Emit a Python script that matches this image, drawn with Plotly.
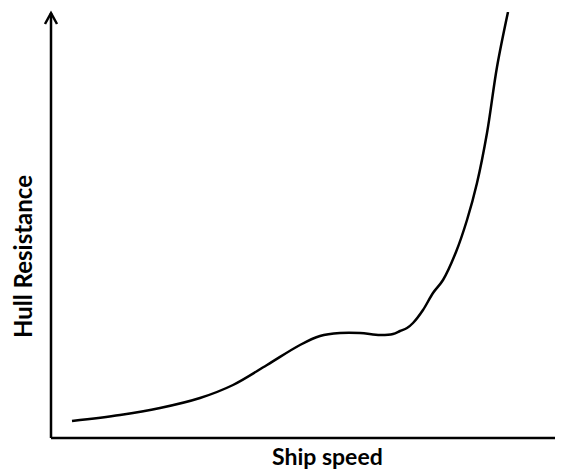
import plotly.graph_objects as go

# Data (arbitrary units: speed vs. hull resistance)
ship_speed = [21, 69, 109, 149, 182, 216, 249, 269, 289, 309, 329, 342, 349, 356,
              362, 372, 382, 392, 405, 416, 426, 436, 446, 457]
hull_resistance = [17, 23, 30, 40, 53, 73, 93, 102, 105, 105, 103, 104, 107, 110,
                   115, 128, 145, 158, 186, 218, 255, 305, 371, 426]

x_label = "Ship speed"
y_label = "Hull Resistance"

# page has an 8px body margin, so the figure is 8px smaller and everything is shifted
OFF = 8
W, H = 563 - OFF, 470 - OFF
ML, MT = 51 - OFF, 12 - OFF
PW, PH = 511, 426
MR = W - ML - PW
MB = H - MT - PH

fig = go.Figure()
fig.add_trace(go.Scatter(
    x=ship_speed, y=hull_resistance, mode="lines",
    line=dict(color="black", width=2.5, shape="spline", smoothing=1.0),
    hoverinfo="skip", showlegend=False,
))

def px(x):
    return (x - 51) / PW

def py(y):
    return (438 - y) / PH

ax_style = dict(color="black", width=2.5)
shapes = [
    dict(type="line", xref="paper", yref="paper", x0=px(51), y0=py(438), x1=px(562), y1=py(438), line=ax_style),
    dict(type="line", xref="paper", yref="paper", x0=px(51), y0=py(438), x1=px(51), y1=py(13), line=ax_style),
    dict(type="path", xref="paper", yref="paper",
         path=f"M {px(45)},{py(24)} L {px(51)},{py(13)} L {px(57)},{py(24)}",
         line=ax_style),
    dict(type="path", xref="paper", yref="paper",
         path=f"M {px(556)},{py(432)} L {px(562)},{py(438)} L {px(556)},{py(444)}",
         line=ax_style),
]

fig.update_layout(
    width=W, height=H,
    margin=dict(l=ML, r=MR, t=MT, b=MB, pad=0),
    paper_bgcolor="white", plot_bgcolor="white",
    xaxis=dict(range=[0, PW], visible=False, fixedrange=True),
    yaxis=dict(range=[0, PH], visible=False, fixedrange=True),
    shapes=shapes,
    annotations=[
        dict(text=f"<b>{x_label}</b>", xref="paper", yref="paper",
             x=px(327), y=py(456), showarrow=False, xanchor="center", yanchor="middle",
             font=dict(family="Lato", size=23, color="black")),
        dict(text=f"<b>{y_label}</b>", xref="paper", yref="paper",
             x=px(22), y=py(257), showarrow=False, xanchor="center", yanchor="middle",
             textangle=-90,
             font=dict(family="Lato", size=24, color="black")),
    ],
)

fig.write_html("out.html")
